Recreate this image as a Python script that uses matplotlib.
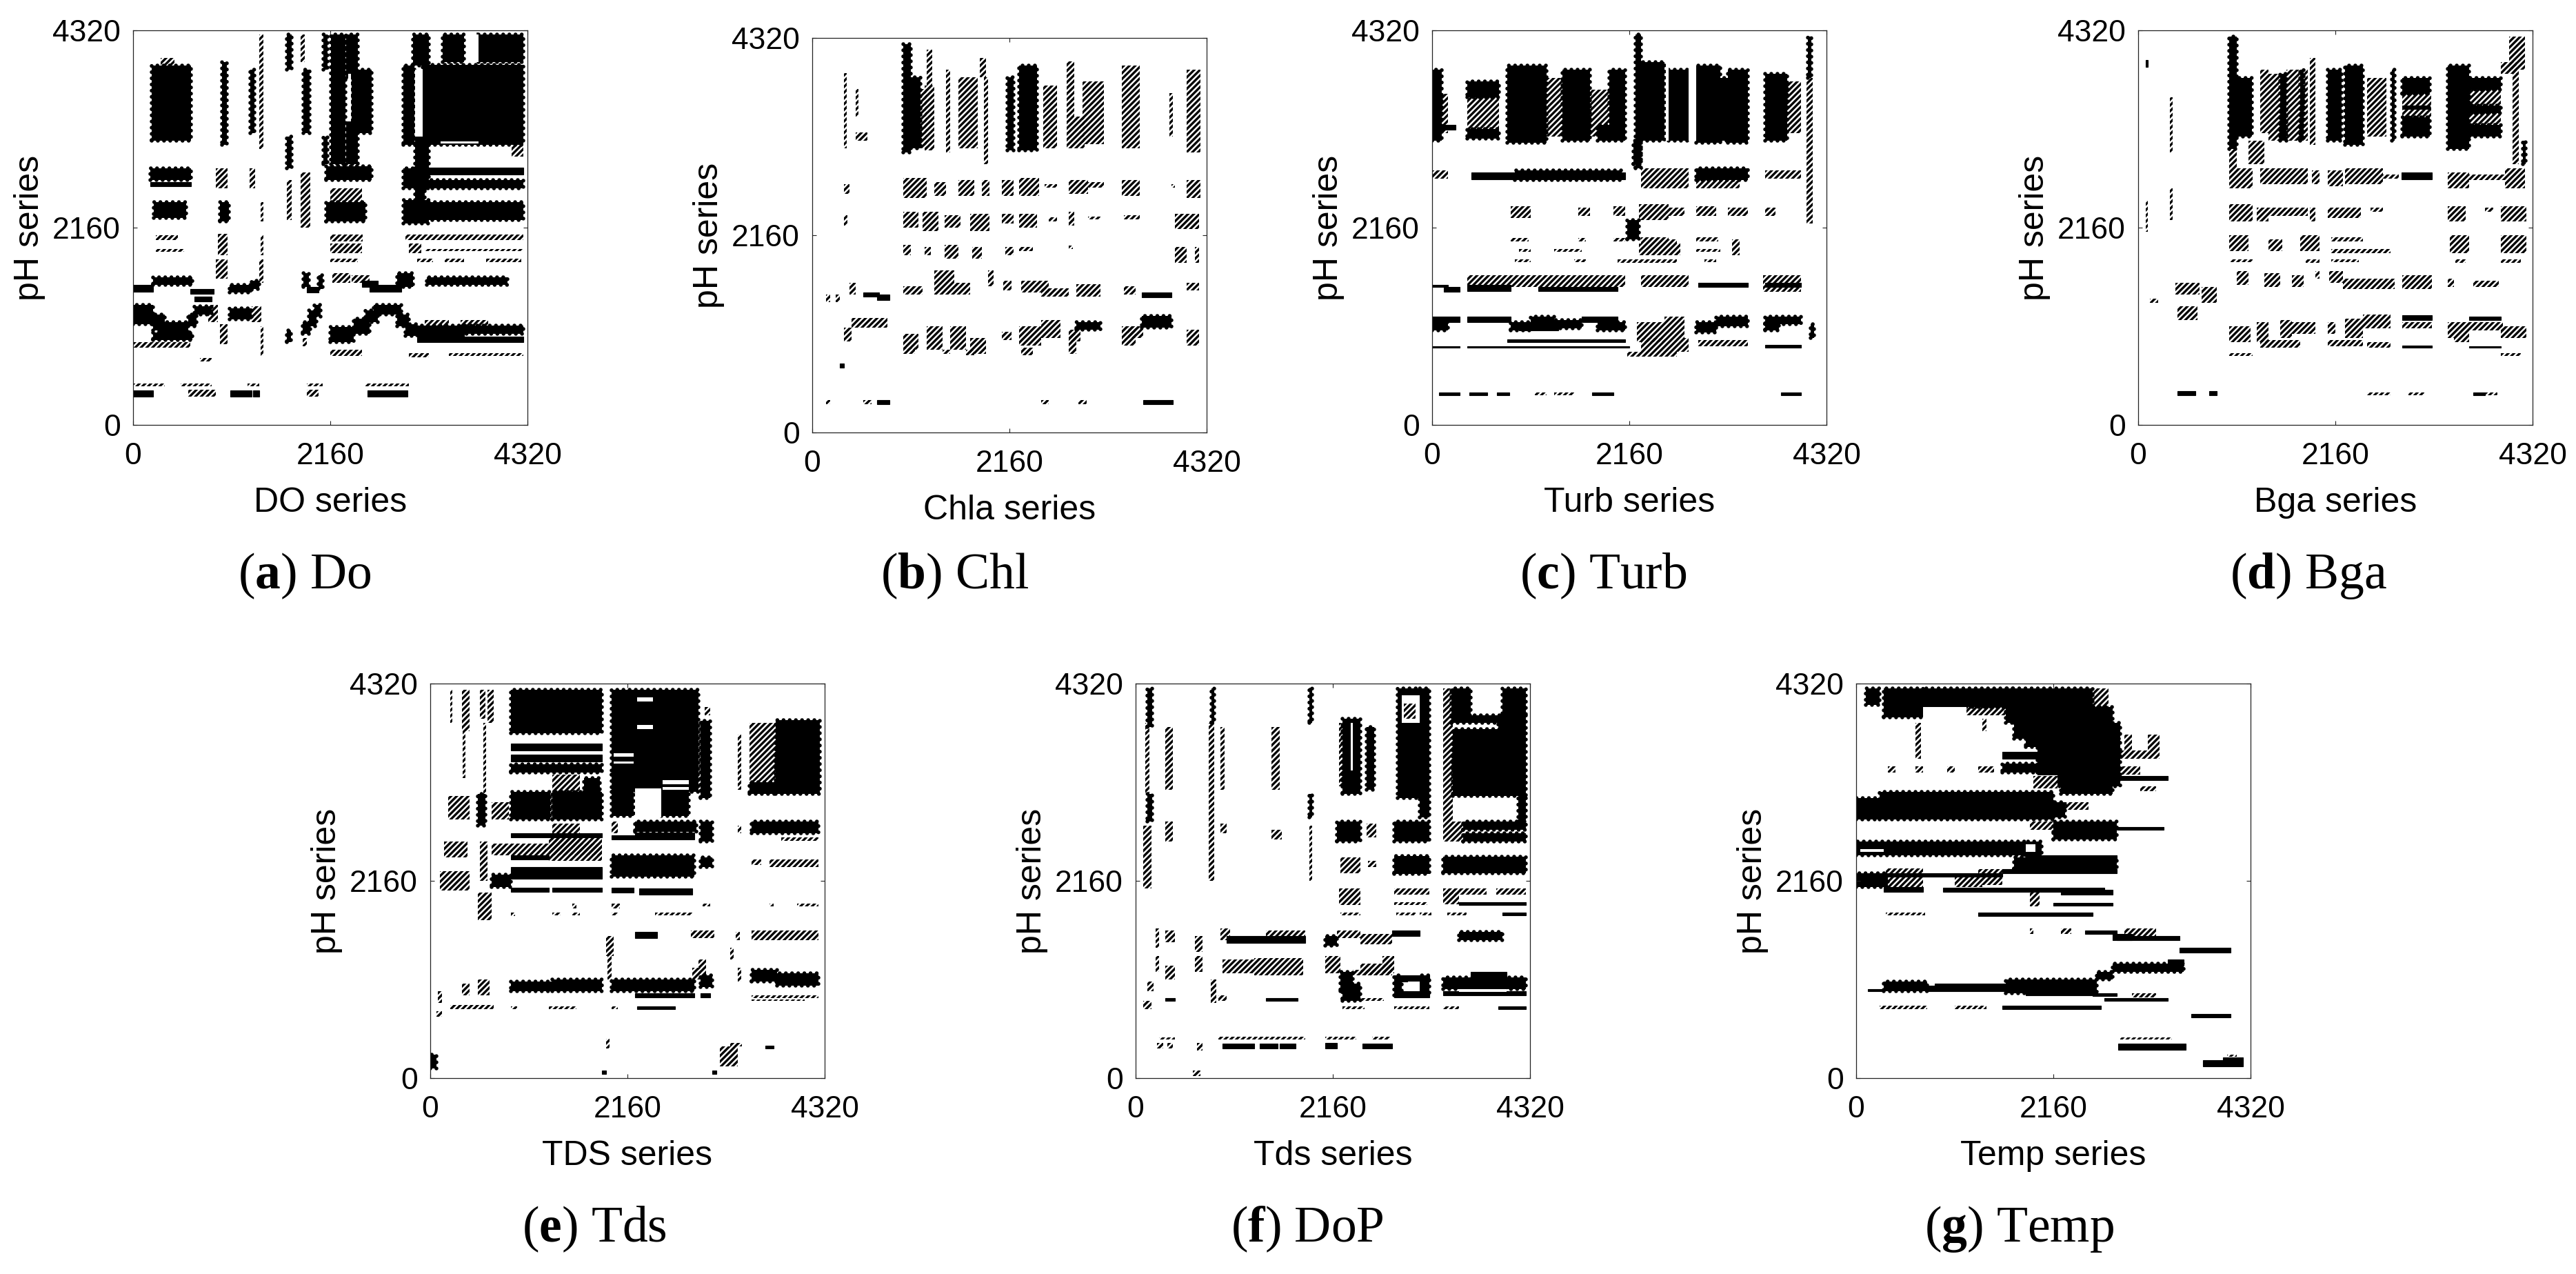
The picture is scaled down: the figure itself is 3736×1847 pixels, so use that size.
# plot.py
# Seven cross recurrence panels, pH series against the other water series

import numpy as np
import matplotlib
matplotlib.use("Agg")
import matplotlib.pyplot as plt

plt.rcParams["font.family"] = ["Liberation Sans", "DejaVu Sans"]
plt.rcParams["mathtext.fontset"] = "custom"
plt.rcParams["mathtext.rm"] = "Liberation Serif"
plt.rcParams["mathtext.bf"] = "Liberation Serif:bold"
plt.rcParams["hatch.linewidth"] = 2.4

# -----------------------------
# Data: recurrence regions
# (x start, x end, y start, y end), in percent of the 4320 samples
# solid = filled area, dotted = stippled area, holes = white gaps
# -----------------------------
SERIES_LEN = 4320
TICKS = [0, 2160, 4320]

x_labels = ["DO series", "Chla series", "Turb series", "Bga series",
            "TDS series", "Tds series", "Temp series"]
letters = ["a", "b", "c", "d", "e", "f", "g"]
names = ["Do", "Chl", "Turb", "Bga", "Tds", "DoP", "Temp"]

do_solid = [
    (4.8, 14.6, 72, 91), (22.5, 23.8, 71, 92), (29.7, 30.8, 74, 90), (50.2, 53.8, 66, 99),
    (54, 57, 88, 99), (54, 57, 66, 77), (55.5, 60.5, 74, 90), (68.5, 71.3, 71, 91),
    (71, 75, 91, 99), (73.5, 99, 71, 91.3), (71.5, 75, 65, 73), (78.5, 84, 92, 99),
    (87.5, 99, 92, 99), (43.2, 44.8, 74, 90), (39, 40.2, 90, 99), (39, 40.2, 65, 73),
    (48.3, 49.3, 90, 99), (48.3, 49.3, 66, 73), (4.3, 14.7, 62, 65), (4.3, 14.7, 60.5, 61.5),
    (5.3, 13.5, 52.5, 56.5), (22, 24.3, 51.5, 56.5), (49, 60.5, 62, 65.5), (49, 59, 51.5, 56.5),
    (68.5, 75, 60, 65), (68.5, 75, 51, 57), (71.5, 74, 57, 60), (74.3, 99, 63.5, 65.2),
    (74.3, 99, 60, 62), (74.3, 99, 52, 56.5), (0, 5, 33.8, 35.5), (5, 15, 35.5, 37.5),
    (14.5, 20.5, 33.2, 34.5), (15.5, 20, 31.3, 32.5), (24.5, 30, 33.5, 35.5), (30, 32, 34.5, 36.5),
    (43.2, 44.5, 35, 38.5), (44, 47, 33.5, 35), (47, 48, 34.5, 38), (58, 62, 35, 36.5),
    (60, 68, 33.8, 35.5), (67, 71, 35, 38.5), (74.5, 95, 35.5, 37.5), (0, 5, 25.5, 30.5),
    (5, 8, 24, 28), (7, 14, 22.8, 26), (14, 16, 25, 28), (15.5, 20, 28, 30),
    (24.5, 30, 26.8, 29.5), (43, 45, 23, 26), (44.5, 46.5, 25, 29), (46, 47.5, 27.5, 30.5),
    (50, 56, 21, 24.8), (56, 60, 23, 27), (59, 62, 26, 29), (61, 68, 28, 30.5),
    (67, 70, 25, 28), (69, 72, 22.5, 25.5), (72, 99, 23, 25.2), (72, 99, 21, 22.3),
    (72, 84, 22.3, 23), (5, 15, 21.5, 23.5), (39, 40, 21, 24), (0, 5, 7.2, 8.7),
    (24.7, 30, 7.2, 8.7), (30.5, 32, 7.2, 8.7), (59.5, 69.5, 7.2, 8.7),
]
do_dotted = [
    (7, 10.5, 91, 93), (32, 33, 70, 99), (42.5, 43.5, 92, 99), (96, 99, 68, 71),
    (21, 24, 60, 65), (29.5, 31, 60, 65), (32.3, 33, 51.5, 56.5), (39, 40.2, 52, 62),
    (42.5, 45, 50, 64), (50, 58, 56.5, 60), (5.8, 11.3, 46.8, 48), (50, 58.3, 46.5, 48.3),
    (69, 99, 46.8, 48.3), (5.8, 13, 43.8, 44.6), (74, 99, 44, 44.6), (50, 58, 43.5, 46),
    (70, 73, 43.5, 46), (72, 76, 41.2, 42.2), (79, 84, 41.2, 42.2), (89.5, 98.5, 41.2, 42.2),
    (50, 57, 41.2, 42.2), (21.5, 24, 43, 48.5), (32.3, 33, 43, 48), (21, 24, 37, 42),
    (32, 33, 36, 42), (55.5, 60, 36, 38), (50.5, 55, 36, 38.5), (19, 21.5, 26, 30.5),
    (30, 32.5, 26, 30), (74, 80, 25, 26.5), (83, 90, 25, 26.5), (0, 14.5, 19.5, 21),
    (22, 24, 20.5, 25.5), (32.3, 33, 17.5, 25), (43, 44, 20, 22), (70, 75, 17.2, 18.2),
    (80, 99, 17.5, 18.2), (50, 58, 17.5, 19), (17, 20, 16, 17), (14, 21, 7.2, 9),
    (44, 47, 7.2, 9), (0, 8, 9.8, 10.5), (12, 20, 9.8, 10.5), (29, 32, 9.8, 10.5),
    (44, 48, 9.8, 10.5), (59, 70, 9.8, 10.5),
]
do_holes = [
    (54.5, 55.2, 77, 89), (71.5, 73.4, 73, 90), (78, 87.5, 71.3, 71.9), (85, 87.5, 92, 99),
]

chl_solid = [
    (23, 25, 71, 98.4), (25, 27.5, 72, 90), (52.5, 57, 71.5, 93), (49.5, 51, 71.5, 90),
    (83.5, 91, 34.2, 35.5), (13, 17, 34.5, 35.5), (16.5, 19.5, 33.6, 35), (83.5, 91, 26.5, 29.5),
    (67, 73, 26, 28), (7, 8, 16.5, 17.5), (16.5, 19.5, 7.2, 8.2), (84, 91.5, 7.2, 8.2),
]
chl_dotted = [
    (27.5, 29, 72, 87), (29, 30.5, 88, 97), (28.5, 31, 71.5, 88), (34, 35, 71, 92),
    (37, 42, 72, 90), (43.5, 44.5, 68, 90), (42.5, 44, 90, 95), (58.5, 62, 72, 88),
    (64.5, 66.5, 80, 94), (64.5, 69, 72, 80), (68.5, 74, 73, 89), (78.5, 83, 72, 93),
    (90.5, 91.5, 75, 86), (95, 98.5, 71, 92), (8, 8.8, 72, 91), (11, 11.7, 80, 87),
    (11, 14, 74, 76), (23, 29, 59.5, 64.5), (31, 34, 60, 63.5), (37, 41, 60, 64),
    (43, 45, 60, 64), (48, 51, 60, 64), (52.5, 57.5, 60, 64.5), (59, 62, 62, 63),
    (65, 70, 60.5, 64), (70, 74, 62, 63.5), (78.5, 83, 60, 64), (91, 92, 62, 63),
    (95, 98.5, 59.5, 64), (8, 9.5, 60.5, 63), (23, 27, 52, 56), (28, 32, 51, 56),
    (33.5, 37.5, 52, 55), (40, 45, 51, 55.5), (48, 51, 53, 55.5), (52.5, 57, 52, 55.5),
    (60, 62, 53.5, 54.5), (65, 66.5, 52.5, 56), (70, 73, 54, 54.8), (79, 83, 54, 55),
    (92, 98, 51.5, 55.5), (8, 9, 52.5, 55), (23, 25, 45, 47.5), (28.5, 30, 45, 47),
    (33.5, 37, 44, 47.5), (40.5, 43, 44, 47), (49, 51, 45, 47), (52.5, 56, 46, 47),
    (65, 66, 46.5, 47.3), (92, 95, 43, 47), (97, 98, 43, 47), (23, 28, 35, 37),
    (31, 36, 35, 41), (36, 40, 35, 38), (44.5, 46, 37, 41), (48.5, 50.5, 36, 38.5),
    (53, 60, 35.5, 38.5), (58, 65, 34.5, 36.5), (67, 73, 34.5, 37.5), (79, 82, 35, 37),
    (95, 98, 36, 38), (3.5, 4.5, 33, 35), (6, 7, 33, 35), (9.5, 11, 35, 38),
    (10, 19, 26.5, 29), (8, 10, 23, 26.5), (80, 84, 24, 27), (65, 68, 23, 26),
    (23, 27, 21, 25), (29, 33, 21, 27), (35, 39, 21, 27), (40, 44, 20, 24),
    (48, 50.5, 23.5, 25.5), (52.5, 58, 22, 27), (58, 63, 24, 28.5), (65, 67, 20, 25),
    (78.5, 82, 22, 27), (95, 98, 22, 26), (23, 26, 20, 21.5), (33, 35, 20, 21),
    (39, 41, 19.5, 21), (53, 56, 19.5, 21.5), (3.5, 4.5, 7.2, 8.2), (13, 15, 7.2, 8.2),
    (58, 60, 7.2, 8.2), (67.5, 69.5, 7.2, 8.2),
]
chl_holes = []

turb_solid = [
    (0, 2.5, 72, 90), (0, 6, 74.8, 76), (9, 17, 83, 87), (9, 17, 72.5, 75),
    (19, 29, 71.5, 91), (33, 40, 72, 90), (42, 45, 72, 76), (45, 49, 72, 90),
    (51.5, 53, 65, 99), (53, 59, 72, 92), (60, 65, 72, 90), (67, 73, 71.5, 91),
    (73, 75, 72, 88), (75, 80, 71.5, 90), (84.5, 90, 72, 89), (95.2, 96.2, 88, 98.5),
    (51, 53, 66, 72), (10, 49, 62.3, 64), (21, 48, 62, 64.5), (67, 80, 62, 65),
    (49.5, 52.5, 47, 52), (0, 4, 34.9, 35.5), (3, 7, 33.8, 35), (9, 20, 34, 35.5),
    (27, 47, 34, 35), (67.5, 80, 35, 36), (84.5, 93.5, 35, 36), (0, 7, 26, 27.5),
    (0, 4, 24, 26), (9, 20, 26, 27.5), (20, 25, 24, 26), (25, 31, 25.5, 27.5),
    (22, 32, 24, 25.8), (31, 38, 24.5, 26.5), (38, 47, 26, 27.5), (42, 49, 24, 26),
    (67, 72, 23.5, 26), (72, 80, 25, 27.5), (84.5, 93.5, 25.5, 27.5), (84.5, 88, 24, 26),
    (96, 96.8, 22, 25.5), (0, 7, 19.5, 20), (9, 50, 19.5, 20), (19, 49, 21, 21.6),
    (84.5, 93.5, 19.5, 20.2), (1.7, 7, 7.5, 8.3), (9.5, 14, 7.5, 8.3), (16.5, 19.5, 7.5, 8.3),
    (40.5, 46, 7.5, 8.3), (88.5, 93.5, 7.5, 8.3),
]
turb_dotted = [
    (2.5, 4, 74, 84), (9, 17, 75, 83), (29, 33, 73, 88), (40, 45, 73, 85),
    (90, 93.5, 74, 87), (95, 96.5, 51, 88), (0, 4, 62.5, 64.5), (53, 65, 60, 65),
    (67, 78, 60, 62), (84.5, 93.5, 62.5, 64.5), (20, 25, 52.5, 55.5), (37, 40, 53, 55),
    (46, 49, 53, 55.5), (52.5, 60, 52, 56), (60, 64, 53, 55), (67, 72, 53, 55.5),
    (75, 80, 53, 55), (84.5, 87, 53, 55), (20, 24.5, 46.5, 47.3), (37, 39, 46.5, 47.3),
    (46, 49, 46.5, 47.3), (53, 60, 46, 47.5), (60, 62, 46, 47), (67, 72.5, 46.5, 47.5),
    (22, 25, 43.8, 44.5), (31, 38, 43.8, 44.5), (52.5, 63, 43, 46), (67, 73, 43.8, 44.5),
    (76, 78, 43, 47), (21, 25, 41.3, 42), (36, 39, 41.3, 42), (47, 62, 41, 42),
    (69, 72, 41.3, 42), (9, 49, 35, 38), (53, 65, 35, 38), (84, 93.5, 33.8, 38),
    (52, 59, 21, 26), (59, 64, 22, 27.5), (53, 65, 18.5, 22), (67.5, 80, 20, 21.5),
    (49.5, 62, 17.3, 18.5), (26, 29, 7.5, 8.3), (31, 36, 7.5, 8.3),
]
turb_holes = [(59.2, 60, 72, 92), (65, 67, 72, 91)]

bga_solid = [
    (23, 25, 70, 98.5), (25, 28.8, 73, 88), (36, 37.5, 72, 89), (41, 42, 72, 90),
    (48, 51.5, 72, 90), (52.5, 57, 71, 91), (64.3, 65, 72, 90), (67, 74, 84, 88),
    (67, 74, 73, 78), (67, 74, 80, 81), (78.5, 84, 70, 91), (84, 92, 85, 88),
    (84, 92, 79, 81), (84, 92, 73, 76), (97.5, 98.3, 66, 72), (2, 2.5, 90.8, 92.5),
    (66.7, 74.5, 62.3, 64), (67, 74.5, 26.5, 27.8), (84, 92, 26.5, 27.5), (67, 74.5, 19.5, 20.1),
    (84, 92, 19.5, 20), (10, 14.5, 7.5, 8.5), (18, 20, 7.5, 8.5), (85, 88, 7.5, 8.3),
]
bga_dotted = [
    (23, 25, 65, 70), (28, 32, 66, 72), (31, 33, 74, 90), (33, 36, 72, 89),
    (37.5, 41, 72, 90), (42, 43, 72, 90), (43.5, 45, 71, 93), (58, 63, 73, 88),
    (67, 74.3, 78, 84), (84, 92, 76, 79), (84, 92, 81, 85), (94, 98, 90, 98.5),
    (92, 96, 89, 92), (95, 96.5, 66, 90), (2, 2.5, 49, 57), (8, 8.7, 69, 83),
    (8, 8.7, 52, 60), (23, 29, 60, 65), (31, 43, 61, 65), (44, 46, 61, 64.5),
    (48, 52, 60.5, 64.5), (52.5, 62, 61, 65), (62, 66, 62.5, 63.5), (78.5, 84, 60, 64),
    (84, 93, 62, 63.5), (93, 98, 60, 65), (23, 29, 51.5, 56), (30, 33, 51.5, 55),
    (33, 43, 53, 55), (43.5, 45, 51.5, 55), (48, 56.5, 52.5, 55), (59, 62, 54, 55),
    (78.5, 83, 51.5, 55.5), (88, 90, 54, 55), (92, 98.5, 51.5, 55.5), (23, 28, 44, 48),
    (33, 36.5, 44, 47), (41, 46, 44, 48), (49, 57, 46.5, 47.5), (49, 64, 43.5, 44.5),
    (79, 84, 43.5, 48), (92, 98.5, 43.5, 48), (23.5, 29, 41.2, 42), (42.5, 46, 41, 42),
    (49, 56, 41.2, 42), (80.5, 83, 41, 42), (92, 97, 41, 42), (25, 28, 35.5, 39),
    (32, 36, 35, 38.5), (39, 42, 35, 38), (45, 46, 37, 39), (48.5, 52, 36, 39),
    (52, 65, 34.5, 37), (67, 74.5, 34.5, 38), (78.5, 80, 35, 37), (85, 91.5, 35, 36.5),
    (9.5, 15.5, 33, 36), (16, 20, 31, 35), (10, 15, 26.5, 30), (3, 5, 31, 32),
    (23, 28.5, 21, 25), (30, 33, 21, 26), (36, 39, 22, 26.5), (39, 45, 23, 26),
    (48, 50, 23, 26), (52.5, 57, 22, 27), (57, 64, 24.5, 28), (67, 74.5, 24.5, 26),
    (78.5, 84, 22, 26), (84, 92.5, 24, 26), (92, 98.5, 22, 25), (31, 41, 19.5, 21.5),
    (48, 57, 20, 21.5), (58, 64, 19.5, 21), (80, 84, 21, 22), (23, 29, 17.5, 18.2),
    (92, 97, 17.5, 18.2), (88, 91, 7.5, 8.3), (58, 64, 7.5, 8.2), (68.5, 72.5, 7.5, 8.2),
]
bga_holes = []

tds_solid = [
    (20.5, 43.5, 87.5, 98.5), (20.5, 43.5, 83, 84.8), (20.5, 43.5, 80.3, 82), (20.5, 43.5, 77.5, 79.5),
    (20.5, 30.5, 65.5, 72.5), (31, 43.5, 65.5, 72.5), (39, 43, 72.5, 76), (46, 68, 77, 98.5),
    (46, 68, 72.5, 77), (58.5, 65.5, 66.5, 73), (46, 51.5, 66.5, 72.5), (68.5, 71, 71, 90.5),
    (87.5, 98.7, 72, 90.7), (81, 87.5, 72, 75), (12, 14, 64, 72), (20.5, 43.5, 61, 62),
    (20.5, 30, 55.5, 56.5), (20.5, 43.5, 52, 53.5), (20.5, 43.5, 50.5, 52), (15.5, 20.5, 48.5, 51.5),
    (20.5, 30, 47.2, 48.2), (31, 43.5, 47.2, 48.2), (46, 51.5, 47, 48.2), (53, 66.5, 46.5, 48),
    (52, 67.5, 62.5, 65), (52, 67, 60.5, 62.3), (46, 52, 60.5, 61.5), (46, 67, 51, 56.5),
    (68.5, 71.5, 53.5, 56), (68.5, 71.5, 60, 65), (81.5, 98.5, 62, 65), (52, 57.5, 35.5, 37),
    (20.5, 31, 22, 24.5), (31, 43.5, 22, 25), (46, 67, 22, 25), (68.5, 71.5, 23, 26),
    (88, 98.5, 23.5, 26.5), (81.5, 88, 24.5, 27.5), (52, 67, 20.5, 21.5), (68.5, 71, 20.5, 21.5),
    (52.5, 62, 17.5, 18.2), (0, 1.5, 2.5, 6), (85, 87, 7.5, 8.3), (43.5, 44.5, 1, 2),
    (71.5, 72.5, 1, 2),
]
tds_dotted = [
    (31, 38, 72.5, 77), (69.5, 71, 92, 94), (81, 87.5, 75, 90), (78, 78.8, 73, 87),
    (5, 5.6, 90, 98.5), (8, 10, 88, 98.5), (8.3, 9, 76, 88), (12.5, 14, 91, 98.5),
    (14.5, 16, 90, 98.5), (13.5, 14.2, 72, 90), (4.5, 10, 65.5, 71.5), (15.5, 20, 65.5, 70),
    (20.5, 43.5, 56.5, 59.5), (15.5, 20.5, 56.5, 59.5), (30, 43.5, 55, 61), (31, 38, 59.5, 64.5),
    (3.5, 9.5, 56, 60), (12.5, 14.5, 50, 60), (2.5, 10, 47.5, 52.5), (46, 47.5, 62, 65),
    (78, 78.8, 62, 64), (89, 98.5, 60.2, 61), (86, 98.5, 53.5, 55.5), (81.5, 84, 54, 55.5),
    (36, 37, 43, 44.3), (46, 48, 43, 44.3), (69, 71, 43.5, 44.3), (86, 87, 43.5, 44.3),
    (93, 98.5, 43.5, 44.3), (20.5, 21.5, 41, 42), (31, 33, 41.2, 42), (36, 38, 41.2, 42),
    (46, 47.5, 41.2, 42), (57, 66.5, 41.2, 42), (12, 15.5, 40, 47), (66, 72, 35.5, 37.5),
    (44.5, 46.5, 31, 36), (81.5, 98.5, 35, 37.5), (77.5, 78.5, 35, 37), (45, 46, 25, 32),
    (68, 70, 25, 30), (76, 77, 30, 33), (66.5, 68.5, 25, 28), (8, 10, 21, 24),
    (12, 15, 21, 25), (78, 78.8, 24.5, 28), (81.5, 98.5, 20.3, 21), (81.5, 95, 19.5, 20),
    (20.5, 22, 17.5, 18.2), (30, 37, 17.5, 18.2), (46, 47.5, 17.5, 18.2), (5, 16, 17.5, 18.5),
    (1.5, 3, 15.5, 17), (2, 3, 19, 22), (44.5, 45.5, 7.5, 10), (73.5, 78, 3, 8),
    (76, 79, 8, 9),
]
tds_holes = [
    (52.5, 56.5, 88.5, 89.5), (52.5, 56.5, 95.5, 96.5), (46.5, 51.5, 81.5, 82.3), (46.5, 51.5, 79.7, 80.3),
    (52, 58.5, 66, 73.5), (59, 65.5, 74.5, 75.5), (59, 65.5, 73, 73.8),
]

dop_solid = [
    (3, 4.2, 89, 98.8), (3, 4.2, 65, 72), (19.3, 20, 90, 98.8), (44, 44.7, 90, 99),
    (44, 44.7, 66, 72), (52.5, 57, 72, 91), (58.5, 60.5, 73, 89), (66.5, 72, 71, 98.8),
    (72, 74.5, 66, 98.8), (80.5, 99, 71.5, 88.5), (80, 85, 92, 98.8), (93, 99, 92, 98.8),
    (80, 93, 90, 92), (92, 99, 88, 92), (97, 99, 65, 71.5), (51, 57, 60, 65),
    (65.5, 74.5, 60, 65), (83, 99, 63, 65), (83, 99, 60, 62), (65.5, 74.5, 51.8, 56.3),
    (78, 99, 52, 56.2), (82, 92, 43.8, 44.5), (92, 99, 43.8, 44.5), (93, 99, 41.2, 42),
    (23, 43, 34.3, 36), (48, 51, 33.5, 36), (65, 72, 36, 37.5), (82, 93, 35, 37),
    (52, 55, 22, 27), (65.5, 74.5, 24.5, 26), (65.5, 67.5, 21, 26), (72, 74.5, 21, 26),
    (65.5, 74.5, 20.5, 22), (78, 99, 22.5, 25.5), (85, 94, 25.5, 27), (78, 99, 21, 22),
    (52.5, 57, 19.5, 24), (33, 41, 19.5, 20.2), (7.5, 10, 19.5, 20.2), (92, 99, 17.5, 18.2),
    (22, 30, 7.5, 8.7), (31.5, 36, 7.5, 8.7), (36.5, 40.5, 7.5, 8.7), (48, 51, 7.5, 9),
    (57.5, 65, 7.5, 8.7),
]
dop_dotted = [
    (2.5, 3.5, 72, 90), (2, 4, 48, 64), (7.5, 9.5, 73, 89), (7.5, 9.5, 60, 65),
    (18.5, 20, 65, 90), (18.5, 20, 50, 65), (21.5, 22.5, 73, 89), (21.5, 23, 62, 64.5),
    (44, 44.7, 50, 64), (34.5, 36.5, 73, 89), (34.5, 37, 60.5, 63), (51.5, 52.5, 74, 90),
    (68, 71, 91, 95), (78, 80.5, 65, 98.8), (58.5, 61, 61, 64.5), (78, 83, 60, 65),
    (52, 57, 52, 56), (59, 61, 53.5, 55), (51.5, 57, 43.8, 48), (65.5, 74.5, 46.5, 48),
    (65.5, 74, 43.8, 44.5), (78, 89, 46.5, 48), (91.5, 99, 46.5, 48), (78, 82, 44, 47),
    (52, 57, 41.2, 42), (66, 71, 41.2, 42), (72, 75, 41.2, 42), (79, 84, 41.2, 42),
    (21.5, 24, 35, 38), (33, 43, 36, 37.5), (51, 57, 35.5, 37.5), (57, 65, 34, 36.5),
    (7.5, 10, 34.5, 37.5), (5, 6, 33, 38), (15, 17, 32, 36), (22, 30, 26.5, 30),
    (30, 42.5, 26, 30.5), (48, 52, 26.5, 31), (57, 65, 26, 29), (55, 62, 26, 27.5),
    (62.5, 65.5, 26.5, 31), (7.5, 10, 25, 28.5), (5, 6, 27, 31), (15, 17, 27, 31),
    (3, 4.5, 22, 24.5), (19, 20.5, 19, 25), (52, 63, 19.5, 20.2), (21, 23, 19.5, 21),
    (65.5, 74.5, 17.5, 18.2), (78, 82, 17.5, 18.2), (2, 4, 17.5, 19.5), (52.5, 58, 17.5, 18.2),
    (5.5, 7, 7.5, 9), (8, 9.5, 7.5, 9), (15.5, 17, 7, 9), (6, 10, 9.8, 10.3),
    (21, 43, 9.8, 10.5), (48, 56, 9.8, 10.5), (60, 64.5, 9.8, 10.5), (14.5, 16.5, 0.5, 2),
]
dop_holes = [(54.6, 55, 78, 90), (67.5, 72, 90, 97), (82, 94, 21.8, 22.6), (69, 72, 22, 24.5)]

temp_solid = [
    (2.5, 6, 94.5, 98.8), (7, 17, 91.5, 98.8), (17, 40, 94, 98.8), (38, 60, 94, 98.8),
    (38, 65, 90, 94), (40, 67, 86, 90), (43, 67, 84, 86), (46, 67, 76, 84),
    (50, 67, 74, 76), (52, 65, 72, 75), (37, 52, 81, 82.7), (37, 46, 77.5, 79.7),
    (0, 6, 65.5, 71), (6, 50, 65.5, 72.5), (50, 53, 66, 70), (67, 79, 75.5, 76.5),
    (50, 66, 62.5, 65), (66, 78, 62.9, 63.7), (50, 66, 60.5, 62.5), (0, 43, 56.5, 60),
    (43, 47, 56.5, 60), (43, 66, 55, 56.5), (40, 66, 53, 56), (37, 66, 52, 53),
    (0, 8, 48.5, 52), (8, 37, 51, 52), (7, 17, 47.2, 48.5), (22, 63, 47.2, 48.3),
    (52, 65, 46.5, 47.8), (50, 65, 43.7, 44.4), (31, 60, 41, 42), (58, 66, 36.5, 37.5),
    (66, 82, 35, 36), (65, 70, 35, 36.5), (82, 95, 31.8, 33), (65, 83, 27, 29),
    (79, 83, 28.5, 30), (61, 65, 25, 27), (7, 18, 22, 24.5), (3, 7, 22, 22.5),
    (18, 60, 22, 23.5), (38, 61, 21.5, 25), (20, 38, 23, 24), (43, 60, 21, 22),
    (60, 66, 20.8, 21.5), (63, 79, 19.5, 20.3), (37, 62, 17.5, 18.3), (85, 95, 15.4, 16.2),
    (66.5, 83.5, 7.2, 8.8), (88, 98, 3, 4.5), (93, 98, 4.5, 5.2),
]
temp_dotted = [
    (28, 38, 92, 94), (60, 64, 92, 98.8), (15, 16.5, 81, 90), (32, 33, 88, 91),
    (31, 35, 77.5, 79), (15, 17, 77.5, 79), (8, 10, 77.5, 79), (23, 25, 77.5, 79),
    (68, 70, 83, 87), (74, 77, 83, 87), (67, 77, 81, 83), (67, 72, 77, 79),
    (72, 76, 72.7, 74), (53, 59, 68, 70), (44, 52, 63, 65), (7, 17, 48.5, 51),
    (25, 32, 48.5, 51), (32, 37, 49, 51.5), (7.5, 17, 52, 53.2), (31, 38, 52, 53),
    (44, 46.5, 43.5, 47), (7.5, 17.5, 41.3, 42), (44, 45, 36.5, 38), (52, 54.5, 36.5, 38),
    (68, 76, 36, 38), (70, 76, 20.5, 21.5), (6, 18, 17.5, 18.3), (25, 33, 17.5, 18.3),
    (67, 80, 9.8, 10.3), (94, 96.5, 5.5, 6), (45, 51, 73.5, 76.5),
]
temp_holes = [(1, 7, 57.3, 58), (43, 45.5, 57.3, 59.3), (45, 51, 73, 76.8), (17, 28, 92, 94)]

solids = [do_solid, chl_solid, turb_solid, bga_solid, tds_solid, dop_solid, temp_solid]
dotteds = [do_dotted, chl_dotted, turb_dotted, bga_dotted, tds_dotted, dop_dotted, temp_dotted]
holes = [do_holes, chl_holes, turb_holes, bga_holes, tds_holes, dop_holes, temp_holes]

# -----------------------------
# Layout, in reference pixels (left, top of each square axes, caption centre)
# -----------------------------
W, H = 3736, 1847
BOX = 572
axes_left = [193, 1178, 2077, 3101, 624, 1647, 2692]
axes_top = [44, 55, 44, 44, 991, 991, 991]
caption_x = [442, 1385, 2325, 3348, 862, 1896, 2929]
caption_y = [835, 835, 835, 835, 1782, 1782, 1782]


def draw_regions(ax, regions, **style):
    if not regions:
        return
    r = np.array(regions, dtype=float) * SERIES_LEN / 100
    ax.bar(r[:, 0], r[:, 3] - r[:, 2], r[:, 1] - r[:, 0], r[:, 2], align="edge", **style)


fig = plt.figure(figsize=(W / 100, H / 100), dpi=100, facecolor="white")

# -----------------------------
# Plot per panel
# -----------------------------
for i in range(7):
    ax = fig.add_axes([axes_left[i] / W, 1 - (axes_top[i] + BOX) / H, BOX / W, BOX / H])

    # big areas get a dotted outline so their edges come out bumpy
    big = [b for b in solids[i] if b[3] - b[2] >= 2]
    thin = [b for b in solids[i] if b[3] - b[2] < 2]
    draw_regions(ax, big, facecolor="black", edgecolor="black", linewidth=4,
                 linestyle=(0, (0.01, 1.6)), capstyle="round")
    draw_regions(ax, thin, color="black", linewidth=0.8, edgecolor="black")
    draw_regions(ax, holes[i], color="white", linewidth=0)
    draw_regions(ax, dotteds[i], facecolor="none", edgecolor="black", hatch="////", linewidth=0)

    ax.set_xlim(0, SERIES_LEN)
    ax.set_ylim(0, SERIES_LEN)
    ax.set_xticks(TICKS)
    ax.set_yticks(TICKS)
    ax.tick_params(direction="in", top=True, right=True, length=4, width=0.8,
                   labelsize=32, color="#222222")
    ax.tick_params(axis="x", pad=18)
    ax.tick_params(axis="y", pad=13)
    for spine in ax.spines.values():
        spine.set_linewidth(0.9)
        spine.set_color("#222222")

    ax.set_xlabel(x_labels[i], fontsize=36)
    ax.set_ylabel("pH series", fontsize=36)
    ax.xaxis.set_label_coords(0.5, -0.197)
    ax.yaxis.set_label_coords(-0.262, 0.5)
    ax.xaxis.label.set_verticalalignment("center")
    ax.yaxis.label.set_verticalalignment("center")

    fig.text(caption_x[i] / W, 1 - caption_y[i] / H,
             "($\\mathbf{" + letters[i] + "}$) " + names[i],
             fontsize=53, family="Liberation Serif", ha="center", va="center")

fig.savefig("out.png", dpi=100, facecolor="white")
print("Saved out.png")
